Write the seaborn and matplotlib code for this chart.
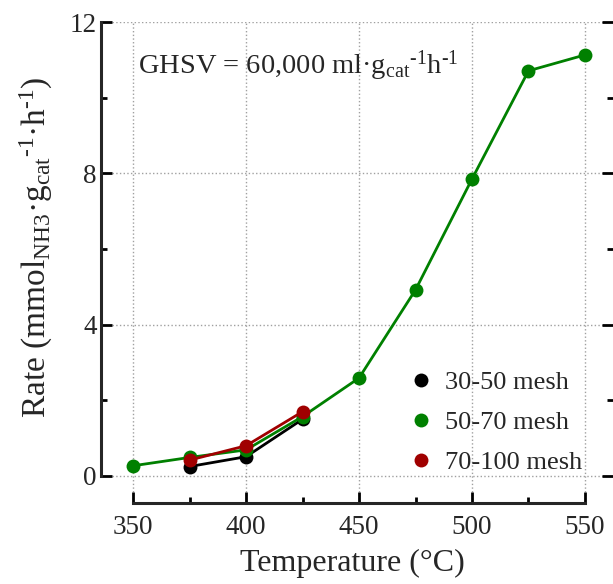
import matplotlib
matplotlib.use("Agg")
import matplotlib.pyplot as plt
from matplotlib.lines import Line2D
from matplotlib.ticker import MultipleLocator
import seaborn as sns
import pandas as pd

# Data
temp_3050 = [375, 400, 425]
rate_3050 = [0.25, 0.51, 1.50]
temp_5070 = [350, 375, 400, 425, 450, 475, 500, 525, 550]
rate_5070 = [0.27, 0.49, 0.69, 1.57, 2.59, 4.92, 7.85, 10.71, 11.13]
temp_70100 = [375, 400, 425]
rate_70100 = [0.42, 0.80, 1.70]
series_names = ["30-50 mesh", "50-70 mesh", "70-100 mesh"]
series_colors = ["#000000", "#008000", "#a00000"]
x_ticks = [350, 400, 450, 500, 550]
y_ticks = [0, 4, 8, 12]

df = pd.concat([
    pd.DataFrame({"T": temp_3050, "rate": rate_3050, "mesh": series_names[0]}),
    pd.DataFrame({"T": temp_5070, "rate": rate_5070, "mesh": series_names[1]}),
    pd.DataFrame({"T": temp_70100, "rate": rate_70100, "mesh": series_names[2]}),
])

sns.set_style("ticks")
plt.rcParams["font.family"] = ["Liberation Serif", "DejaVu Serif"]
plt.rcParams["mathtext.fontset"] = "custom"
plt.rcParams["mathtext.rm"] = "Liberation Serif"
plt.rcParams["mathtext.it"] = "Liberation Serif:italic"
plt.rcParams["mathtext.bf"] = "Liberation Serif:bold"

fig = plt.figure(figsize=(6.13, 5.84), dpi=100)
ax = fig.add_axes([101/613, 81/584, 512/613, 481/584])

palette = dict(zip(series_names, series_colors))
sns.lineplot(data=df, x="T", y="rate", hue="mesh", hue_order=series_names,
             palette=palette, marker="o", markersize=10, markeredgewidth=0,
             linewidth=2, legend=False, ax=ax, zorder=3)

ax.set_xlim(335.8, 562.4)
ax.set_ylim(-0.714, 12)
ax.set_xticks(x_ticks)
ax.set_yticks(y_ticks)
ax.xaxis.set_minor_locator(MultipleLocator(25))
ax.yaxis.set_minor_locator(MultipleLocator(2))

ax.grid(True, which="major", linestyle=":", color="#a0a0a0", linewidth=1.0)
ax.set_axisbelow(True)

for s in ["top", "right"]:
    ax.spines[s].set_visible(False)
ax.spines["left"].set_bounds(0, 12)
ax.spines["bottom"].set_bounds(350, 550)
ax.spines["left"].set_linewidth(2.2)
ax.spines["bottom"].set_linewidth(2.2)

ax.tick_params(axis="both", which="major", direction="in", length=8, width=2,
               labelsize=19.5, color="black")
ax.tick_params(axis="both", which="minor", direction="in", length=4.5, width=2,
               color="black")
ax.tick_params(axis="y", which="both", right=True, labelright=False)
ax.tick_params(axis="y", which="major", pad=3)
ax.tick_params(axis="x", which="major", pad=9)

ax.set_xlabel("Temperature (°C)", fontsize=23)
ax.xaxis.set_label_coords(0.49, -0.095)
ax.set_ylabel(r"Rate (mmol$_{\mathrm{NH3}}$·g$_{\mathrm{cat}}$$^{\text{-1}}$·h$^{\text{-1}}$)",
              fontsize=24)
ax.yaxis.set_label_coords(-0.089, 0.532)

ax.text(0.072, 0.91, r"GHSV = 60,000 ml·g$_{\mathrm{cat}}$$^{\text{-1}}$h$^{\text{-1}}$",
        transform=ax.transAxes, fontsize=20.5, va="center", ha="left")

handles = [Line2D([], [], linestyle="none", marker="o", markersize=10,
                  markeredgewidth=0, color=c) for c in series_colors]
ax.legend(handles, series_names, loc="upper left", bbox_to_anchor=(0.6, 0.275),
          frameon=False, fontsize=19, borderpad=0, labelspacing=0.62,
          handlelength=1.0, handletextpad=0.4, borderaxespad=0)

fig.savefig("out.png", dpi=100)
